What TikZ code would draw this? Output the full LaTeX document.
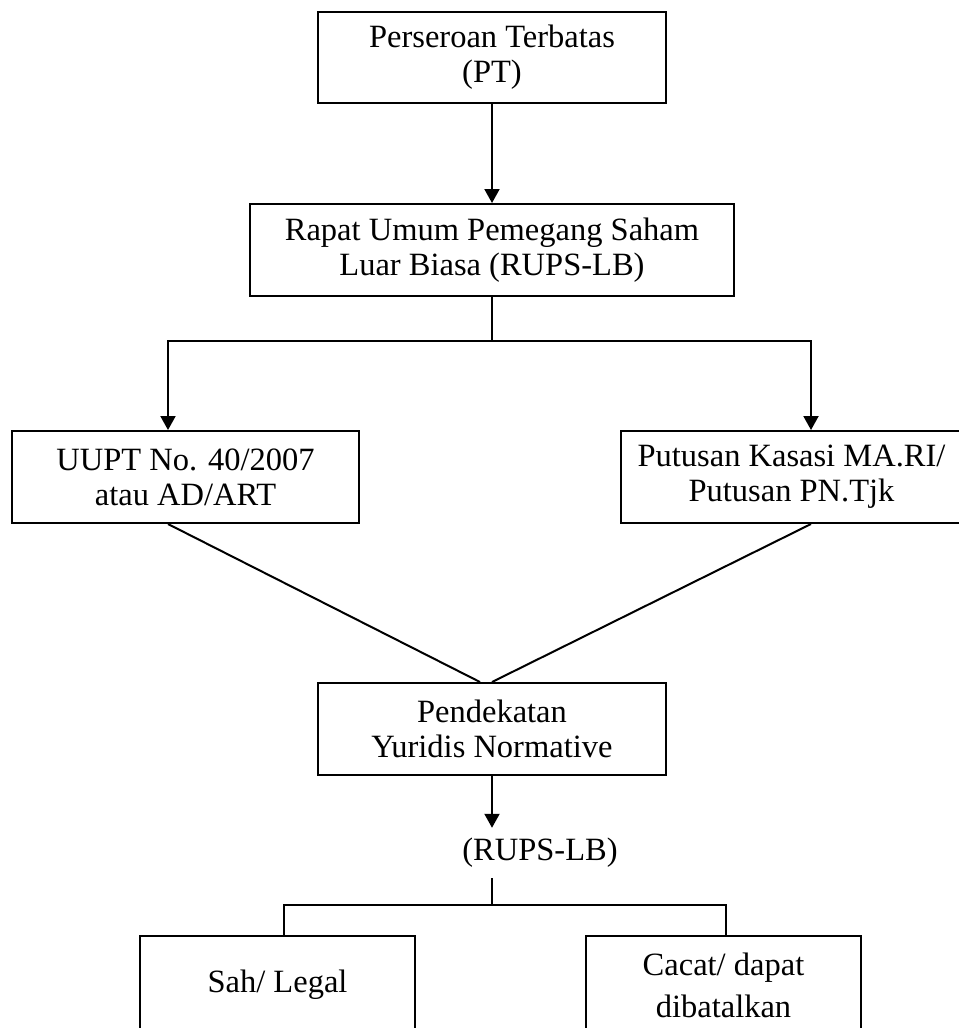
\documentclass[tikz,border=0pt]{standalone}
\usepackage{fontspec}
\setmainfont{Liberation Serif}
\usetikzlibrary{arrows.meta,positioning}

\begin{document}
\begin{tikzpicture}[x=0.4pt, y=-0.4pt,
    box/.style={rectangle, draw, thick, align=center, font=\fontsize{13}{14}\selectfont, minimum height=36.8pt},
    label/.style={inner sep=4pt, font=\fontsize{13}{14}\selectfont},
    arrow/.style={-{Triangle[length=5.6pt, width=6pt]}, thick},
    link/.style={thick}
]
\useasboundingbox (0,0) rectangle (959,1028);

\node[box, minimum width=138.8pt, minimum height=36.4pt] (pt) at (492,57.5) {Perseroan Terbatas\\(PT)};
\node[box, minimum width=193.2pt, below=39.6pt of pt] (rups) {Rapat Umum Pemegang Saham\\Luar Biasa (RUPS-LB)};
\node[box, minimum width=138.8pt] (uupt) at (185.5,477) {UUPT No. 40/2007\\atau AD/ART};
\node[box, minimum width=136.4pt] (putusan) at (791.5,477) {Putusan Kasasi MA.RI/\\Putusan PN.Tjk};
\node[box, minimum width=138.8pt, below=154pt of rups] (pend) {Pendekatan\\Yuridis Normative};
\node[label] (rupslb) at (540,853) {(RUPS-LB)};
\node[box, minimum width=110pt, minimum height=39.2pt] (sah) at (277.5,985) {Sah/ Legal};
\node[box, minimum width=110pt, minimum height=39.2pt] (cacat) at (723.5,985) {Cacat/ dapat\\[2.8pt]dibatalkan};

\coordinate (splitA) at (492,341);
\coordinate (splitB) at (492,905);

\draw[arrow] (pt) -- (rups);
\draw[link] (rups) -- (splitA);
\draw[arrow] (splitA) -| ([xshift=-7pt]uupt.north);
\draw[arrow] (splitA) -| ([xshift=7.8pt]putusan.north);
\draw[link] ([xshift=-7pt]uupt.south) -- ([xshift=-4.8pt]pend.north);
\draw[link] ([xshift=7.8pt]putusan.south) -- (pend.north);
\draw[arrow] (pend.south) -- (pend.south |- rupslb.north);
\draw[link] (pend.south |- rupslb.south) -- (splitB);
\draw[link] (splitB) -| ([xshift=2.6pt]sah.north);
\draw[link] (splitB) -| ([xshift=1pt]cacat.north);

\end{tikzpicture}
\end{document}
